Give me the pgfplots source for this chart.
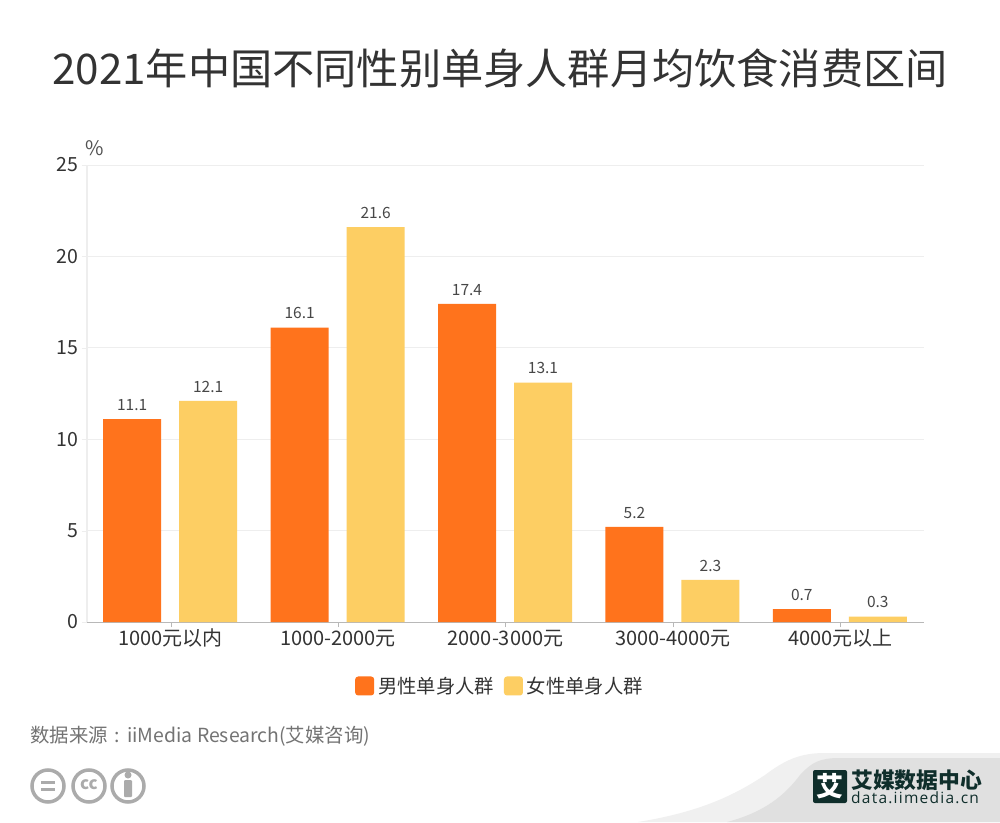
\documentclass[border=0pt]{standalone}
\usepackage{fontspec}
\setmainfont{Noto Sans CJK SC}
\newfontfamily\latinf[LetterSpace=8]{Open Sans}
\usepackage{pgfplots}
\pgfplotsset{compat=1.18}
\usepackage{pgfplotstable}
\definecolor{orangeb}{HTML}{FF731C}
\definecolor{yellowb}{HTML}{FDCE63}
\definecolor{txt}{HTML}{333333}
\definecolor{grid}{HTML}{EEEEEE}
\definecolor{iconc}{HTML}{ABABAB}
\definecolor{logo}{HTML}{0F2E2B}
\pgfplotstableread{
x male female
0 11.1 12.1
1 16.1 21.6
2 17.4 13.1
3 5.2 2.3
4 0.7 0.3
}\datatable
\begin{document}
\begin{tikzpicture}
\path[use as bounding box] (0,0) rectangle (1000pt,822pt);
\begin{scope}[x=1pt,y=-1pt,shift={(0pt,822pt)}]
\fill[white] (0,0) rectangle (1000,822);
\fill[grid!85!white] (638,822) .. controls (700,812) and (735,795) .. (765,775) .. controls (785,760) and (800,753) .. (825,753) -- (1000,753) -- (1000,822) -- cycle;
\fill[black!12] (727,822) .. controls (765,812) and (785,795) .. (800,775) .. controls (812,762) and (820,758) .. (840,758) -- (1000,758) -- (1000,822) -- cycle;
\node[text=txt,font=\fontsize{42.2}{48}\selectfont,anchor=center] at (500,68) {2021年中国不同性别单身人群月均饮食消费区间};
\node[text=txt!85!white,font=\fontsize{20}{22}\selectfont,anchor=center] at (94.5,148) {\%};
\node[text=black!55,font=\fontsize{19.4}{24}\selectfont,anchor=west,inner sep=0pt] at (30,736) {数据来源\hspace{2pt} : \hspace{2pt}iiMedia Research(艾媒咨询)};
% licence icons
\draw[iconc,line width=3.5pt] (48,786) circle (16);
\draw[iconc,line width=3.5pt] (89,786) circle (16);
\draw[iconc,line width=3.5pt] (128,786) circle (16);
\fill[iconc] (41,781) rectangle (55,784);
\fill[iconc] (41,788) rectangle (55,791);
\node[iconc,font=\fontsize{17}{18}\selectfont\bfseries,inner sep=0pt] at (89,785) {cc};
\fill[iconc] (128,775) circle (3.5);
\fill[iconc,rounded corners=1pt] (124,780) rectangle (132,797);
% logo
\fill[logo,rounded corners=2pt] (813,770) rectangle (847,803);
\node[white,font=\fontsize{27}{28}\selectfont\bfseries,inner sep=0pt] at (830,786.5) {艾};
\node[logo,font=\fontsize{21.8}{24}\selectfont\bfseries,inner sep=0pt,anchor=west] at (851,780) {艾媒数据中心};
\node[logo,font=\latinf\fontsize{15.5}{16}\selectfont,inner sep=0pt,anchor=west] at (851,798) {data.iimedia.cn};
\end{scope}
\begin{axis}[
  at={(87pt,200pt)},anchor=south west,
  scale only axis,width=837pt,height=457pt,
  xmin=-0.5,xmax=4.5,ymin=0,ymax=25,
  ybar,bar width=58pt,
  axis x line=bottom,axis y line=left,
  x axis line style={-,draw=black!28,line width=1pt},
  y axis line style={-,draw=grid,line width=1.2pt},
  xtick={0,1,2,3,4},
  xticklabels={1000元以内,1000-2000元,2000-3000元,3000-4000元,4000元以上},
  ytick={0,5,10,15,20,25},
  ymajorgrids,grid style={draw=grid,line width=0.8pt},
  tick align=outside,major tick length=5pt,
  xtick style={draw=black!28},ytick style={draw=grid},
  tick label style={text=txt,font=\fontsize{20}{22}\selectfont},
  /pgf/number format/assume math mode=true,
  xticklabel style={text height=17pt,text depth=5pt,inner sep=0pt,yshift=-1pt},
  yticklabel style={xshift=0pt,font=\fontsize{19.5}{22}\selectfont},
  nodes near coords,
  every node near coord/.append style={text=txt!90!white,font=\fontsize{15.5}{18}\selectfont,/pgf/number format/fixed,/pgf/number format/fixed zerofill,/pgf/number format/precision=1,/pgf/number format/assume math mode=true,yshift=5pt},
  legend columns=2,
  legend style={at={(0.4934,-0.14)},anchor=center,draw=none,fill=none,font=\fontsize{19.3}{22}\selectfont,text=txt,
    /tikz/every even column/.append style={column sep=8pt},
    /tikz/every odd column/.append style={column sep=2pt}},
  legend cell align=left,
  legend image code/.code={\fill[#1,rounded corners=3pt] (0pt,-9.5pt) rectangle (19pt,9.5pt);},
]
\addplot[fill=orangeb,draw=none,bar shift=-38.5pt] table[x=x,y=male] {\datatable};
\addplot[fill=yellowb,draw=none,bar shift=37.5pt] table[x=x,y=female] {\datatable};
\legend{男性单身人群,女性单身人群}
\end{axis}
\end{tikzpicture}
\end{document}
